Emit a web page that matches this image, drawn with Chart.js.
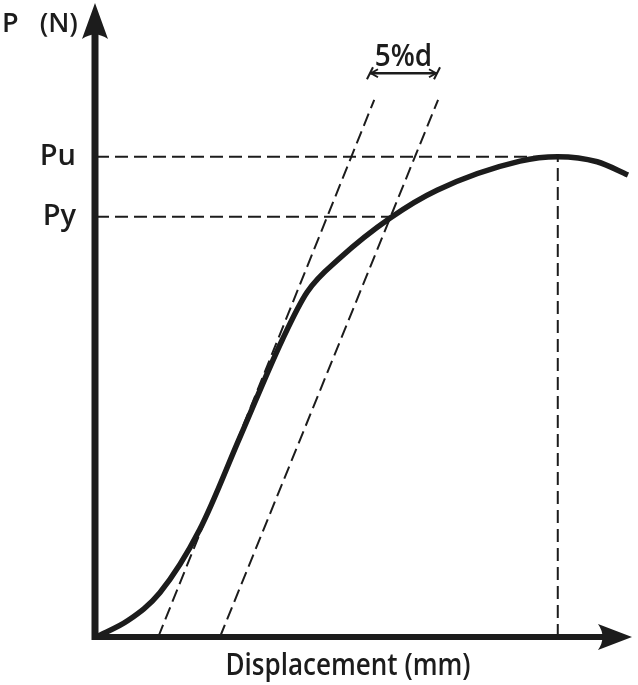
<!DOCTYPE html>
<html>
<head>
<meta charset="utf-8">
<script src="https://cdn.jsdelivr.net/npm/chart.js@4.4.1/dist/chart.umd.min.js"></script>
<style>
  body { margin: 0; background: #fff; }
  #wrap { width: 638px; height: 685px; }
</style>
</head>
<body>
<div id="wrap"><canvas id="loadChart" width="638" height="685"></canvas></div>
<script>
// load - displacement curve (arbitrary units)
var curveX = [0, 0.6, 1.2, 1.95, 2.7, 3.5, 3.97, 4.59, 5.53, 6.41, 7.97, 8.68, 9.42, 10.0];
var curveY = [0, 2.6, 7.0, 17.0, 31.5, 47.0, 54.6, 60.0, 66.3, 70.7, 75.3, 76.0, 75.2, 73.1];

// offset lines (initial stiffness, shifted by 5%d)
var tangentX = [1.17, 5.23];
var offsetX = [2.33, 6.43];
var tangentY = [0, 85];

var Pu = 76.0;
var Py = 66.5;
var PyX = 5.53;   // where offset line meets the curve
var PuX = 8.68;   // peak displacement

var tickValues = [Py, Pu];
var tickLabels = ['Py', 'Pu'];

var dimY = 89.2;      // level of 5%d dimension arrow
var dimX = [5.15, 6.41];

var xTitle = 'Displacement (mm)';
var yTitle = 'P   (N)';

function pts(xs, ys) {
  return xs.map(function(x, i) { return { x: x, y: ys[i] }; });
}

var ink = '#1c1c1c';

// draw arrow axes, axis titles and the 5%d dimension
var sketchPlugin = {
  id: 'sketch',
  afterDatasetsDraw: function(chart) {
    var ctx = chart.ctx, xs = chart.scales.x, ys = chart.scales.y;
    var x0 = xs.getPixelForValue(0) - 1, y0 = ys.getPixelForValue(0);
    var top = 3, right = 632;
    ctx.save();
    ctx.strokeStyle = ink;
    ctx.fillStyle = ink;
    ctx.lineWidth = 7;
    // y axis
    ctx.beginPath();
    ctx.moveTo(x0, y0 + 3);
    ctx.lineTo(x0, top + 20);
    ctx.stroke();
    // x axis
    ctx.lineWidth = 6;
    ctx.beginPath();
    ctx.moveTo(x0 - 3, y0);
    ctx.lineTo(right - 20, y0);
    ctx.stroke();
    // arrowheads
    ctx.beginPath();
    ctx.moveTo(x0, top);
    ctx.lineTo(x0 + 13, top + 36);
    ctx.quadraticCurveTo(x0, top + 27, x0 - 13, top + 36);
    ctx.closePath();
    ctx.fill();
    ctx.beginPath();
    ctx.moveTo(right, y0);
    ctx.lineTo(right - 34, y0 - 13);
    ctx.quadraticCurveTo(right - 25, y0, right - 34, y0 + 13);
    ctx.closePath();
    ctx.fill();

    // axis titles (slightly condensed)
    ctx.textBaseline = 'alphabetic';
    ctx.font = '600 27px "Open Sans"';
    ctx.textAlign = 'left';
    ctx.fillText(yTitle, 2, 32);

    ctx.save();
    ctx.font = '600 31px "Open Sans"';
    ctx.textAlign = 'center';
    ctx.translate(348, 675);
    ctx.scale(0.84, 1);
    ctx.fillText(xTitle, 0, 0);
    ctx.restore();

    // 5%d dimension
    var dy = ys.getPixelForValue(dimY);
    var a = xs.getPixelForValue(dimX[0]), b = xs.getPixelForValue(dimX[1]);
    ctx.lineWidth = 2.5;
    ctx.beginPath();
    ctx.moveTo(a, dy); ctx.lineTo(b, dy);
    ctx.stroke();
    ctx.lineWidth = 2;
    [a, b].forEach(function(px) {
      ctx.beginPath();
      ctx.moveTo(px - 3, dy + 6); ctx.lineTo(px + 3, dy - 6);
      ctx.stroke();
    });
    ctx.beginPath();
    ctx.moveTo(a + 8, dy - 4); ctx.lineTo(a + 1, dy); ctx.lineTo(a + 8, dy + 4);
    ctx.moveTo(b - 8, dy - 4); ctx.lineTo(b - 1, dy); ctx.lineTo(b - 8, dy + 4);
    ctx.stroke();
    ctx.save();
    ctx.font = '600 31px "Open Sans"';
    ctx.textAlign = 'center';
    ctx.translate((a + b) / 2, dy - 7);
    ctx.scale(0.9, 1);
    ctx.fillText('5%d', 0, 0);
    ctx.restore();
    ctx.restore();
  }
};

var dashed = {
  borderColor: ink, borderWidth: 2, borderDash: [13, 6],
  pointRadius: 0, fill: false, tension: 0, clip: false
};

new Chart(document.getElementById('loadChart'), {
  type: 'line',
  data: {
    datasets: [
      Object.assign({ label: 'tangent', data: pts(tangentX, tangentY) }, dashed),
      Object.assign({ label: 'offset 5%d', data: pts(offsetX, tangentY) }, dashed),
      Object.assign({ label: 'Pu', data: pts([0, PuX], [Pu, Pu]) }, dashed),
      Object.assign({ label: 'Py', data: pts([0, PyX], [Py, Py]) }, dashed),
      Object.assign({ label: 'peak', data: pts([PuX, PuX], [0, Pu]) }, dashed),
      {
        label: 'P-d curve',
        data: pts(curveX, curveY),
        borderColor: ink, borderWidth: 5.5,
        pointRadius: 0, fill: false,
        cubicInterpolationMode: 'monotone', clip: false
      }
    ]
  },
  options: {
    responsive: false,
    animation: false,
    layout: { padding: { left: 0, top: 5, right: 10, bottom: 0 } },
    plugins: { legend: { display: false }, tooltip: { enabled: false } },
    scales: {
      x: {
        type: 'linear', min: 0, max: 10,
        grid: { display: false, drawTicks: false },
        border: { display: false },
        ticks: { display: false },
        afterFit: function(s) { s.height = 48; s.paddingLeft = 0; s.paddingRight = 0; }
      },
      y: {
        type: 'linear', min: 0, max: 100,
        grid: { display: false, drawTicks: false },
        border: { display: false },
        afterBuildTicks: function(s) {
          s.ticks = tickValues.map(function(v) { return { value: v }; });
        },
        ticks: {
          color: ink, padding: 20,
          font: { family: 'Open Sans', size: 29, weight: '600' },
          callback: function(v) { return tickLabels[tickValues.indexOf(v)]; }
        },
        afterFit: function(s) { s.width = 96; s.paddingTop = 0; s.paddingBottom = 0; }
      }
    }
  },
  plugins: [sketchPlugin]
});
</script>
</body>
</html>
